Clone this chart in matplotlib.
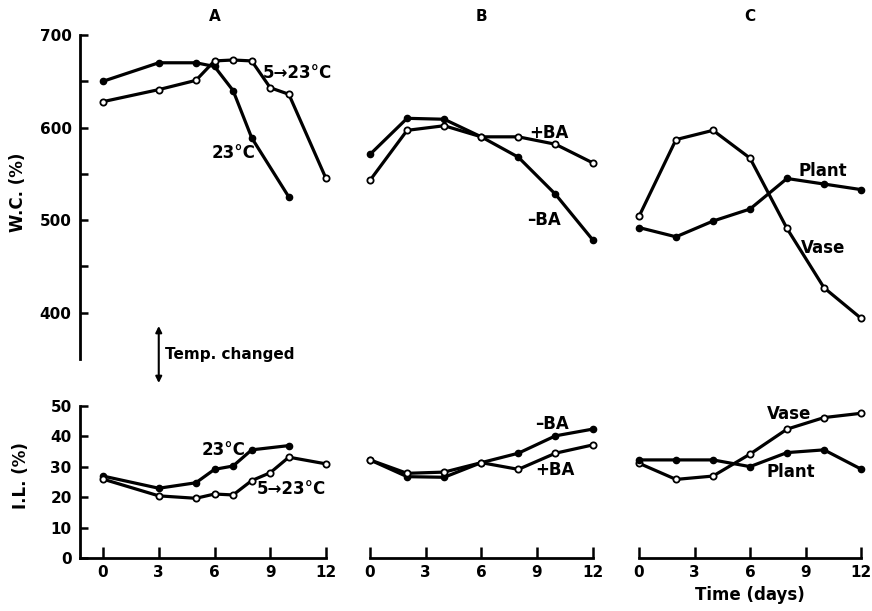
import numpy as np
import matplotlib.pyplot as plt

# Panel A: storage temperature (days 0-12)
days_a = [0, 3, 5, 6, 7, 8, 10]
wc_a_23 = [650, 670, 670, 666, 640, 589, 525]
days_a_shift = [0, 3, 5, 6, 7, 8, 9, 10, 12]
wc_a_shift = [628, 641, 651, 672, 673, 672, 643, 636, 545]
il_a_23 = [27, 23, 24.8, 29.2, 30.3, 35.6, 37]
il_a_shift = [26, 20.5, 19.7, 21.1, 20.8, 25.5, 28.1, 33.2, 31]

# Panel B: benzyladenine treatment
days_b = [0, 2, 4, 6, 8, 10, 12]
wc_b_minus = [571, 610, 609, 590, 568, 528, 479]
wc_b_plus = [543, 597, 602, 590, 590, 582, 562]
il_b_minus = [32.3, 26.8, 26.6, 31.4, 34.5, 40.2, 42.4]
il_b_plus = [32.3, 27.9, 28.3, 31.4, 29.2, 34.5, 37.2]

# Panel C: vase vs plant
days_c = [0, 2, 4, 6, 8, 10, 12]
wc_c_vase = [504, 587, 597, 567, 491, 427, 394]
wc_c_plant = [492, 482, 499, 512, 545, 539, 533]
il_c_vase = [31.2, 25.9, 27, 34.2, 42.4, 46.2, 47.6]
il_c_plant = [32.3, 32.3, 32.3, 30.1, 34.7, 35.6, 29.3]

day_ticks = [0, 3, 6, 9, 12]

plt.rcParams['font.family'] = 'DejaVu Sans'
plt.rcParams['font.weight'] = 'bold'

fig = plt.figure(figsize=(8.72, 6.11), dpi=100)
W, H = 872, 611


def px_axes(x0, x1, ytop, ybot):
    return fig.add_axes([x0 / W, 1 - ybot / H, (x1 - x0) / W, (ybot - ytop) / H])


a_top = px_axes(80, 326, 35, 359)
a_bot = px_axes(80, 326, 406, 558.3)
b_top = px_axes(370, 592.5, 35, 359)
b_bot = px_axes(370, 592.5, 406, 558.3)
c_top = px_axes(639, 861, 35, 359)
c_bot = px_axes(639, 861, 406, 558.3)

# panel A carries the y axes, so it starts a little left of day 0
a_left = -(103 - 80) / 18.58
for ax in (a_top, a_bot):
    ax.set_xlim(a_left, 12)
for ax in (b_top, b_bot, c_top, c_bot):
    ax.set_xlim(0, 12)
for ax in (a_top, b_top, c_top):
    ax.set_ylim(350, 700)
for ax in (a_bot, b_bot, c_bot):
    ax.set_ylim(0, 50)

for ax in (a_top, a_bot, b_top, b_bot, c_top, c_bot):
    ax.patch.set_alpha(0)
    for s in ('top', 'right'):
        ax.spines[s].set_visible(False)
    for s in ('left', 'bottom'):
        ax.spines[s].set_linewidth(2.0)

# top row: no x axis
for ax in (a_top, b_top, c_top):
    ax.spines['bottom'].set_visible(False)
    ax.set_xticks([])
for ax in (b_top, c_top, b_bot, c_bot):
    ax.spines['left'].set_visible(False)
    ax.set_yticks([])

a_top.set_yticks([400, 500, 600, 700])
a_top.set_yticks([450, 550, 650], minor=True)
a_top.tick_params(axis='y', which='both', direction='in', length=6, width=1.8,
                  labelsize=11, pad=6)
a_bot.set_yticks([0, 10, 20, 30, 40, 50])
a_bot.tick_params(axis='y', direction='in', length=6, width=1.8, labelsize=11, pad=6)

for ax in (a_bot, b_bot, c_bot):
    ax.set_xticks(day_ticks)
    ax.tick_params(axis='x', direction='in', length=8, width=1.8, labelsize=11, pad=5)

for lab in a_top.get_yticklabels() + a_bot.get_yticklabels():
    lab.set_fontweight('bold')
for ax in (a_bot, b_bot, c_bot):
    for lab in ax.get_xticklabels():
        lab.set_fontweight('bold')

a_top.set_ylabel('W.C. (%)', fontsize=12, fontweight='bold')
a_top.yaxis.set_label_coords(-0.215, 0.515)
a_bot.set_ylabel('I.L. (%)', fontsize=12, fontweight='bold')
a_bot.yaxis.set_label_coords(-0.205, 0.54)

line_kw = dict(color='black', lw=2.3, clip_on=False, markersize=4.5, zorder=3)


def filled(ax, x, y):
    ax.plot(x, y, marker='o', markerfacecolor='black', markeredgecolor='black', **line_kw)


def hollow(ax, x, y):
    ax.plot(x, y, marker='o', markerfacecolor='white', markeredgecolor='black',
            markeredgewidth=1.3, **line_kw)


filled(a_top, days_a, wc_a_23)
hollow(a_top, days_a_shift, wc_a_shift)
filled(a_bot, days_a, il_a_23)
hollow(a_bot, days_a_shift, il_a_shift)

filled(b_top, days_b, wc_b_minus)
hollow(b_top, days_b, wc_b_plus)
filled(b_bot, days_b, il_b_minus)
hollow(b_bot, days_b, il_b_plus)

hollow(c_top, days_c, wc_c_vase)
filled(c_top, days_c, wc_c_plant)
hollow(c_bot, days_c, il_c_vase)
filled(c_bot, days_c, il_c_plant)

# curve labels
lab_kw = dict(fontsize=12, fontweight='bold', va='center')
a_top.text(8.6, 659, '5\u219223\u00b0C', ha='left', **lab_kw)
a_top.text(7.0, 572, '23\u00b0C', ha='center', **lab_kw)
a_bot.text(5.3, 35.6, '23\u00b0C', ha='left', **lab_kw)
a_bot.text(8.3, 22.8, '5\u219223\u00b0C', ha='left', **lab_kw)
b_top.text(8.6, 594, '+BA', ha='left', **lab_kw)
b_top.text(8.5, 500, '\u2013BA', ha='left', **lab_kw)
b_bot.text(8.9, 44.1, '\u2013BA', ha='left', **lab_kw)
b_bot.text(8.9, 29.0, '+BA', ha='left', **lab_kw)
c_top.text(8.6, 553, 'Plant', ha='left', **lab_kw)
c_top.text(8.75, 470, 'Vase', ha='left', **lab_kw)
c_bot.text(6.9, 47.4, 'Vase', ha='left', **lab_kw)
c_bot.text(6.9, 28.3, 'Plant', ha='left', **lab_kw)

# panel letters centred over days 0-12
for ax, name in ((a_top, 'A'), (b_top, 'B'), (c_top, 'C')):
    ax.text(6, 1.035, name, transform=ax.get_xaxis_transform(),
            ha='center', va='bottom', fontsize=11, fontweight='bold')

c_bot.set_xlabel('Time (days)', fontsize=12, fontweight='bold', labelpad=4)

# temperature change marker on day 3
a_top.annotate('', xy=(3, 1 - 383 / H), xytext=(3, 1 - 326 / H),
               xycoords=('data', 'figure fraction'),
               textcoords=('data', 'figure fraction'),
               arrowprops=dict(arrowstyle='<|-|>', color='black', lw=1.5,
                               mutation_scale=9, shrinkA=0, shrinkB=0),
               annotation_clip=False)
fig.text(165 / W, 1 - 354 / H, 'Temp. changed', fontsize=11, fontweight='bold',
         ha='left', va='center')

fig.savefig('out.png', dpi=100, facecolor='white')
